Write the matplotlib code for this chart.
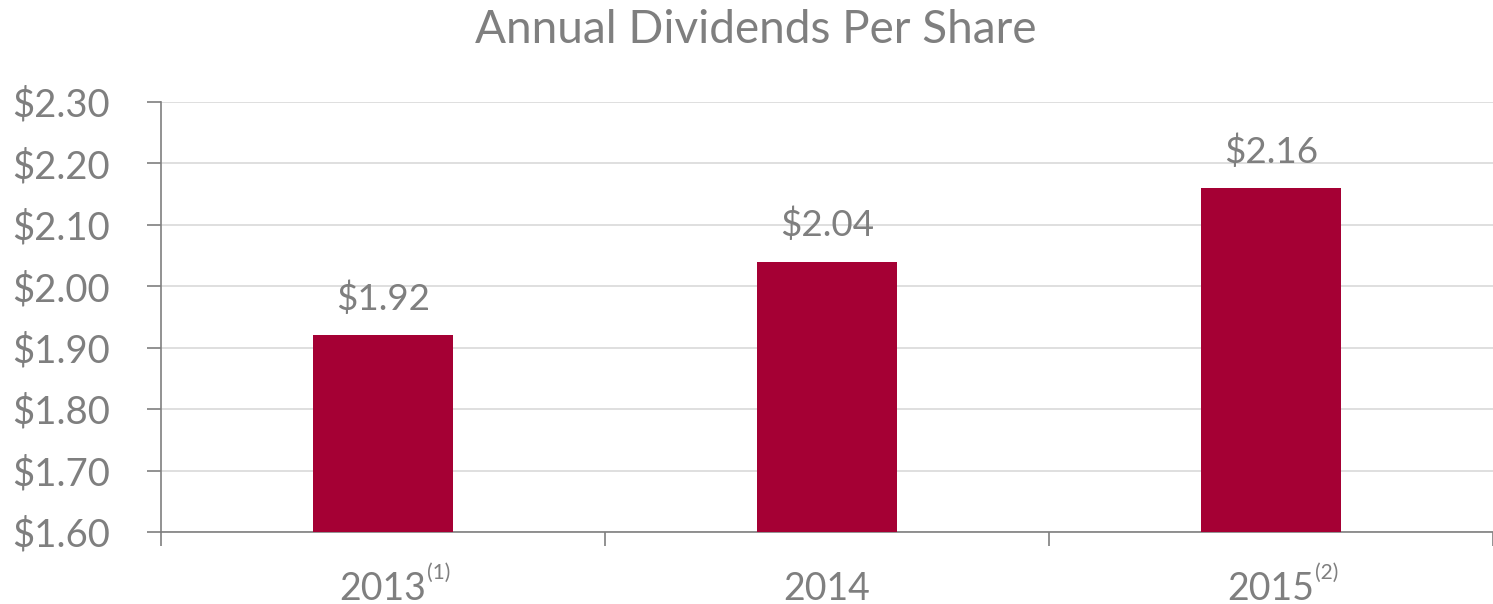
import matplotlib
matplotlib.use("Agg")
import matplotlib.pyplot as plt
import numpy as np

years = ["2013", "2014", "2015"]
notes = ["(1)", "", "(2)"]
dividends = [1.92, 2.04, 2.16]
y_ticks = [1.60, 1.70, 1.80, 1.90, 2.00, 2.10, 2.20, 2.30]

GREY = "#7f7f7f"
BAR = "#a50034"

plt.rcParams["font.family"] = ["Lato", "DejaVu Sans"]

fig = plt.figure(figsize=(14.93, 6.04), dpi=100)
ax = fig.add_axes([161 / 1493, 1 - 532 / 604, 1 - 161 / 1493, (532 - 102) / 604])

x = np.arange(len(years))
ax.bar(x, [d - y_ticks[0] for d in dividends], bottom=y_ticks[0], width=0.315,
       color=BAR, zorder=3)

for xi, d in zip(x, dividends):
    ax.annotate(f"${d:.2f}", (xi, d), xytext=(0, 14), textcoords="offset points",
                ha="center", va="bottom", fontsize=26.5, color=GREY)

ax.set_xlim(-0.5, len(years) - 0.5)
ax.set_ylim(y_ticks[0], y_ticks[-1])
ax.set_yticks(y_ticks)
ax.set_yticklabels([f"${v:.2f}" for v in y_ticks], fontsize=27.5, color=GREY)

ax.set_xticks(x)
ax.set_xticklabels(years, fontsize=27, color=GREY)
ax.tick_params(axis="x", length=0, pad=28)
# footnote markers hang to the right of the year
for xi, n in zip(x, notes):
    if n:
        ax.annotate(n, (xi, 0), xycoords=("data", "axes fraction"),
                    xytext=(32, -22), textcoords="offset points",
                    ha="left", va="top", fontsize=15, color=GREY)

ax.set_xticks(np.arange(len(years) + 1) - 0.5, minor=True)
ax.tick_params(axis="x", which="minor", length=10, color=GREY, width=1.2,
               direction="out")
ax.tick_params(axis="y", length=10, color=GREY, width=1.2, pad=27)

ax.grid(axis="y", color="#d9d9d9", linewidth=1.2, zorder=0)
for s in ["top", "right"]:
    ax.spines[s].set_visible(False)
for s in ["left", "bottom"]:
    ax.spines[s].set_color(GREY)
    ax.spines[s].set_linewidth(1.2)

fig.text(756 / 1493, 1 - 30 / 604, "Annual Dividends Per Share",
         ha="center", va="center", fontsize=33, color=GREY)

fig.savefig("out.png", dpi=100)
